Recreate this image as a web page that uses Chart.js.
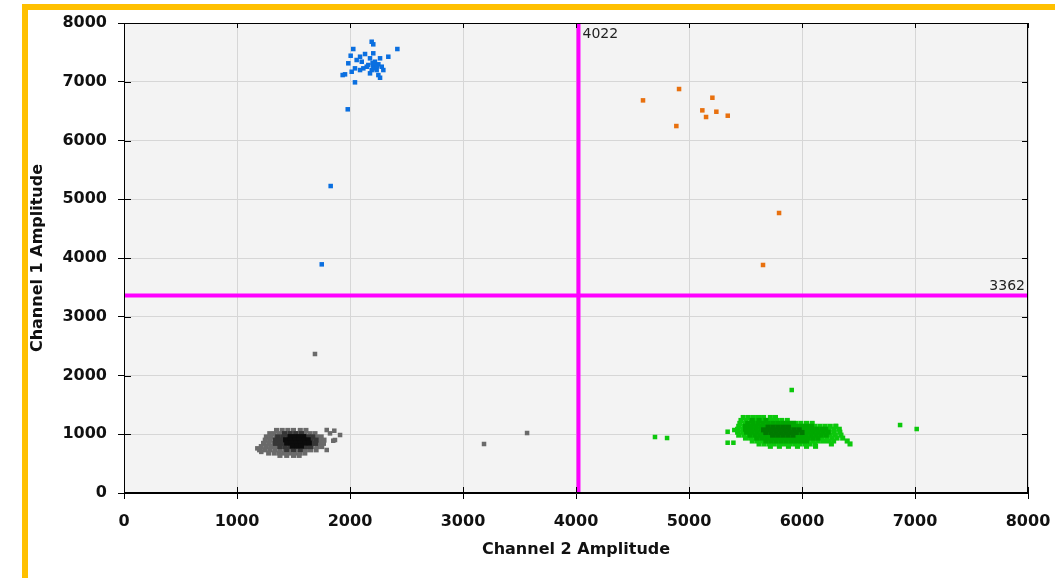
<!DOCTYPE html>
<html><head><meta charset="utf-8">
<script src="https://cdn.jsdelivr.net/npm/chart.js@4.4.1/dist/chart.umd.min.js"></script>
<style>
html,body{margin:0;padding:0;background:#fff;width:1055px;height:578px;overflow:hidden}
#frame{position:absolute;left:22px;top:4px;width:1100px;height:600px;border:6px solid #FFC000;box-sizing:border-box;background:#fff}
#wrap{position:absolute;left:0;top:0;width:1055px;height:578px}
</style></head><body>
<div id="frame"></div>
<div id="wrap"><canvas id="c" width="1055" height="578"></canvas></div>
<script>
// ---- data ----
const xTickLabels = ['0','1000','2000','3000','4000','5000','6000','7000','8000'];
const yTickLabels = ['0','1000','2000','3000','4000','5000','6000','7000','8000'];
const thresholdX = 4022;   // Channel 2 threshold
const thresholdY = 3362;   // Channel 1 threshold

const blueDroplets = [
  [2192,7681],[2206,7637],[2419,7557],[2029,7557],[2133,7472],[2206,7484],[2339,7426],[2006,7443],
  [2089,7426],[2177,7399],[2266,7399],[2059,7370],[1985,7314],[2104,7341],[2221,7341],[2251,7297],
  [2162,7285],[2206,7273],[2281,7256],[2118,7228],[2044,7228],[2192,7199],[2236,7199],[2295,7199],
  [2015,7170],[2089,7199],[1956,7126],[1935,7114],[2177,7143],[2251,7114],[2266,7068],[2044,6990],
  [2148,7256],[2221,7228],[2240,7270],[2200,7320],
  [1980,6531],[1829,5225],[1750,3892]
];
const orangeDroplets = [
  [4912,6876],[4593,6683],[5207,6728],[5118,6513],[5242,6490],[5151,6400],[5343,6422],[4888,6246],
  [5797,4766],[5655,3881]
];
const grayStray = [
  [1794,1072],[1823,1015],[1861,1060],[1912,987],[1867,902],[1852,890],[1794,732],
  [1180,760],[1215,700],[1690,2366],[3186,834],[3567,1021]
];
// dense clusters: [y, [x values]] rows
const grayOuterRows = [
  [1065,[1350,1400,1450,1500,1560,1610]],
  [1010,[1290,1330,1375,1420,1465,1510,1555,1600,1645,1690]],
  [955,[1260,1300,1345,1390,1435,1480,1525,1570,1615,1660,1705,1745]],
  [900,[1250,1290,1335,1380,1425,1470,1515,1560,1605,1650,1695,1740,1770]],
  [845,[1235,1280,1325,1370,1415,1460,1505,1550,1595,1640,1685,1730,1765]],
  [790,[1215,1260,1305,1350,1395,1440,1485,1530,1575,1620,1665,1710,1750]],
  [735,[1200,1245,1290,1335,1380,1425,1470,1515,1560,1605,1650,1700]],
  [680,[1280,1330,1375,1420,1465,1510,1555,1600]],
  [640,[1380,1440,1500,1550]]
];
const grayMidRows = [
  [1010,[1420,1470,1520,1570]],
  [955,[1360,1405,1450,1495,1540,1585,1630,1670]],
  [900,[1340,1385,1430,1475,1520,1565,1610,1655,1700]],
  [845,[1340,1385,1430,1475,1520,1565,1610,1655,1695]],
  [790,[1380,1425,1470,1515,1560,1605,1650]],
  [740,[1440,1500,1560]]
];
const grayCoreRows = [
  [960,[1470,1510,1550,1590]],
  [905,[1430,1470,1510,1550,1590,1630]],
  [850,[1440,1480,1520,1560,1600,1640]],
  [800,[1490,1530,1570]]
];
const greenOuterRows = [
  [1285,[5480,5525,5570,5615,5660,5720,5765]],
  [1235,[5460,5505,5550,5595,5640,5685,5730,5775,5820,5870]],
  [1185,[5450,5495,5540,5585,5630,5675,5720,5765,5810,5855,5900,5945,5990,6040,6090]],
  [1135,[5440,5485,5530,5575,5620,5665,5710,5755,5800,5845,5890,5935,5980,6025,6070,6115,6160,6205,6250,6300]],
  [1085,[5430,5475,5520,5565,5610,5655,5700,5745,5790,5835,5880,5925,5970,6015,6060,6105,6150,6195,6240,6285,6330]],
  [1035,[5430,5475,5520,5565,5610,5655,5700,5745,5790,5835,5880,5925,5970,6015,6060,6105,6150,6195,6240,6285,6335]],
  [985,[5440,5485,5530,5575,5620,5665,5710,5755,5800,5845,5890,5935,5980,6025,6070,6115,6160,6205,6250,6295,6345]],
  [935,[5500,5545,5590,5635,5680,5725,5770,5815,5860,5905,5950,5995,6040,6085,6130,6175,6220,6265,6310,6360]],
  [885,[5560,5605,5650,5695,5740,5785,5830,5875,5920,5965,6010,6055,6100,6145,6190,6235,6280,6400]],
  [835,[5620,5665,5710,5755,5800,5845,5890,5935,5980,6025,6070,6115,6260,6425]],
  [795,[5720,5800,5880,5960,6040,6120]]
];
const greenMidRows = [
  [1235,[5560,5620,5680]],
  [1185,[5520,5565,5610,5655,5700,5745,5790,5835,5880,5925]],
  [1135,[5500,5545,5590,5635,5680,5725,5770,5815,5860,5905,5950,5995,6040,6085]],
  [1085,[5500,5545,5590,5635,5680,5725,5770,5815,5860,5905,5950,5995,6040,6085,6130,6175,6210]],
  [1035,[5510,5555,5600,5645,5690,5735,5780,5825,5870,5915,5960,6005,6050,6095,6140,6185,6230]],
  [985,[5540,5585,5630,5675,5720,5765,5810,5855,5900,5945,5990,6035,6080,6125,6170,6215]],
  [935,[5600,5645,5690,5735,5780,5825,5870,5915,5960,6005,6050,6095,6140]],
  [885,[5680,5725,5770,5815,5860,5905,5950,5995,6040]]
];
const greenCoreRows = [
  [1120,[5700,5745,5790,5835,5880]],
  [1075,[5660,5705,5750,5795,5840,5885,5930,5975]],
  [1030,[5680,5725,5770,5815,5860,5905,5950,6000]],
  [985,[5740,5785,5830,5875,5920]]
];
const greenStray = [
  [5342,1043],[5342,856],[5393,856],[5401,1072],[5909,1753],[6868,1157],[7015,1089],[4699,953],[4806,936],[6298,1140]
];

// ---- build ----
const pts = arr => arr.map(p => ({x:p[0], y:p[1]}));
const rows = r => r.flatMap(([y, xs]) => xs.map(x => ({x, y})));
function ds(label, data, color, r){
  return {label, data, backgroundColor:color, borderColor:color, borderWidth:0,
    pointStyle:'rect', pointRadius:r, pointHoverRadius:r, showLine:false};
}
const RS = 3.2;   // sparse droplets
const RC = 3.6;   // dense clusters
const magenta = '#ff00ff';
const FONT = 'DejaVu Sans';

const chromePlugin = {
  id:'chrome',
  beforeDraw(chart){
    const {ctx, chartArea:a} = chart;
    ctx.save();
    ctx.fillStyle = '#f3f3f3';
    ctx.fillRect(a.left, a.top, a.right-a.left, a.bottom-a.top);
    ctx.restore();
  },
  afterDraw(chart){
    const {ctx, chartArea:a, scales:{x, y}} = chart;
    ctx.save();
    ctx.strokeStyle = '#000';
    ctx.lineWidth = 1;
    ctx.strokeRect(Math.round(a.left)+0.5, Math.round(a.top)+0.5, Math.round(a.right-a.left)-1, Math.round(a.bottom-a.top)-1);
    ctx.beginPath();
    x.ticks.forEach(t => {
      const px = Math.round(x.getPixelForValue(t.value)) + 0.5;
      ctx.moveTo(px, a.bottom); ctx.lineTo(px, a.bottom-6);
      ctx.moveTo(px, a.top); ctx.lineTo(px, a.top+5);
    });
    y.ticks.forEach(t => {
      const py = Math.round(y.getPixelForValue(t.value)) + 0.5;
      ctx.moveTo(a.left, py); ctx.lineTo(a.left+7, py);
      ctx.moveTo(a.right, py); ctx.lineTo(a.right-6, py);
    });
    ctx.stroke();
    ctx.fillStyle = '#222';
    ctx.font = '14px "' + FONT + '"';
    ctx.textBaseline = 'middle';
    ctx.textAlign = 'left';
    ctx.fillText(String(thresholdX), x.getPixelForValue(thresholdX)+4, a.top+11);
    ctx.textAlign = 'right';
    ctx.fillText(String(thresholdY), a.right-3, y.getPixelForValue(thresholdY)-9);
    ctx.restore();
  }
};

const tickFont = {family:FONT, size:16, weight:'bold'};
const titleFont = {family:FONT, size:16, weight:'bold'};

new Chart(document.getElementById('c'), {
  type:'scatter',
  data:{datasets:[
    {label:'thrX', type:'line', data:[{x:thresholdX,y:0},{x:thresholdX,y:8000}], borderColor:magenta, borderWidth:4, pointRadius:0, showLine:true, fill:false},
    {label:'thrY', type:'line', data:[{x:0,y:thresholdY},{x:8000,y:thresholdY}], borderColor:magenta, borderWidth:4, pointRadius:0, showLine:true, fill:false},
    ds('blue', pts(blueDroplets), '#0a6fe0', RS),
    ds('orange', pts(orangeDroplets), '#e8700e', RS),
    ds('grayCore', rows(grayCoreRows), '#0c0c0c', RC),
    ds('grayMid', rows(grayMidRows), '#363636', RC),
    ds('grayOuter', rows(grayOuterRows), '#6a6a6a', RC),
    ds('grayStray', pts(grayStray), '#6a6a6a', RS),
    ds('greenCore', rows(greenCoreRows), '#007a00', RC),
    ds('greenMid', rows(greenMidRows), '#00a800', RC),
    ds('greenOuter', rows(greenOuterRows), '#0cc80c', RC),
    ds('greenStray', pts(greenStray), '#0cc80c', RS)
  ]},
  options:{
    responsive:false, animation:false, events:[],
    layout:{padding:{left:0, top:23, right:27, bottom:0}},
    plugins:{legend:{display:false}, tooltip:{enabled:false}},
    scales:{
      x:{type:'linear', position:'bottom', min:0, max:8000,
        ticks:{stepSize:1000, autoSkip:false, maxRotation:0, padding:13, font:tickFont, color:'#111',
          callback:(v)=>xTickLabels[Math.round(v/1000)]},
        grid:{color:'#d6d6d6', lineWidth:1, tickLength:6, tickColor:'#000', drawTicks:true},
        border:{display:true, color:'#000', width:1},
        title:{display:true, text:'Channel 2 Amplitude', font:titleFont, color:'#111', padding:{top:0, bottom:19}},
        afterFit:(s)=>{s.height=85; s.paddingLeft=0; s.paddingRight=0;}
      },
      y:{type:'linear', position:'left', min:0, max:8000,
        ticks:{stepSize:1000, autoSkip:false, padding:11, font:tickFont, color:'#111',
          callback:(v)=>yTickLabels[Math.round(v/1000)]},
        grid:{color:'#d6d6d6', lineWidth:1, tickLength:6, tickColor:'#000', drawTicks:true},
        border:{display:true, color:'#000', width:1},
        title:{display:true, text:'Channel 1 Amplitude', font:titleFont, color:'#111', padding:{top:28, bottom:0}},
        afterFit:(s)=>{s.width=124; s.paddingTop=0; s.paddingBottom=0;}
      }
    }
  },
  plugins:[chromePlugin]
});
</script>
</body></html>
